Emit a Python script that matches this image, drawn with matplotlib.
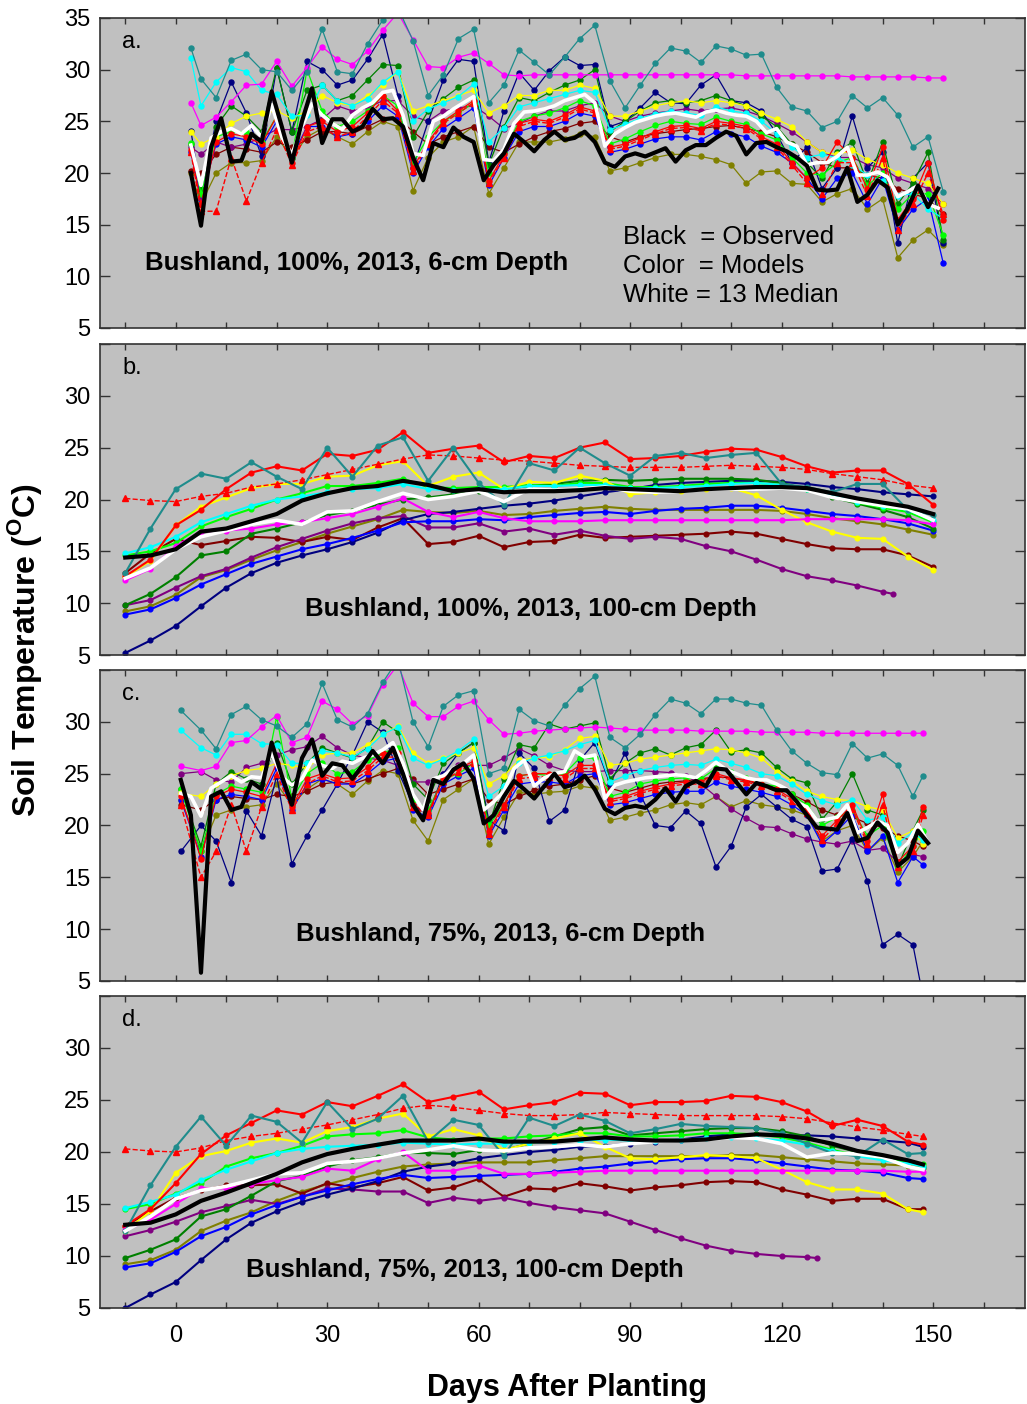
import numpy as np
import matplotlib
matplotlib.use('Agg')
import matplotlib.pyplot as plt
from matplotlib.ticker import MultipleLocator, FixedLocator

plt.rcParams['font.family'] = ['Liberation Sans', 'DejaVu Sans']
plt.rcParams['mathtext.fontset'] = 'custom'
plt.rcParams['mathtext.rm'] = 'Liberation Sans'
plt.rcParams['mathtext.bf'] = 'Liberation Sans:bold'

# ---------------- day grids ----------------
days_a_mod = np.r_[3, np.arange(5, 153, 3)]      # panel a models
days_a_obs = np.arange(3, 152, 2)                # panel a observed / median
days_c_mod = np.r_[1, np.arange(5, 147, 3), 148] # panel c models
days_c_obs = np.arange(1, 150, 2)
days_b = np.arange(-10, 151, 5)
days_b_purple = np.r_[np.arange(-10, 141, 5), 142]
days_d = np.r_[np.arange(-10, 146, 5), 148]
days_d_purple = np.r_[np.arange(-10, 126, 5), 127]

# ---------------- panel a : 100%, 6 cm ----------------
obs_a = [20.0, 14.9, 22.5, 25.3, 21.1, 21.2, 23.8, 23.0, 27.9, 24.5,
         21.0, 25.0, 28.2, 22.9, 25.2, 25.2, 24.0, 24.5, 26.2, 25.2,
         25.3, 24.5, 21.5, 19.3, 22.9, 22.5, 24.4, 23.5, 23.0, 19.3,
         20.8, 21.9, 23.8, 23.0, 22.1, 23.2, 24.0, 23.2, 23.4, 24.0,
         23.0, 21.0, 20.6, 21.6, 21.9, 21.6, 22.0, 22.4, 21.1, 22.2,
         22.7, 22.7, 23.4, 24.0, 23.6, 21.8, 22.9, 23.0, 22.5, 22.1,
         21.5, 20.7, 18.4, 18.3, 18.4, 20.5, 17.2, 17.9, 19.3, 18.6,
         15.0, 16.6, 18.8, 16.7, 18.5]
med_a = [22.7, 18.8, 23.4, 24.0, 24.3, 23.8, 24.6, 23.5, 26.6, 23.5,
         21.8, 24.5, 26.7, 25.6, 24.8, 24.2, 25.6, 26.3, 26.8, 27.8,
         28.0, 25.6, 21.9, 21.7, 25.0, 25.5, 26.2, 26.8, 27.4, 21.3,
         21.2, 22.3, 24.8, 25.9, 26.0, 26.2, 26.5, 27.0, 27.3, 27.6,
         26.8, 22.6, 23.8, 24.4, 24.9, 25.2, 25.5, 25.7, 25.8, 25.6,
         25.4, 25.9, 26.1, 25.8, 25.6, 25.5, 25.0, 23.9, 24.3, 23.0,
         22.6, 20.8, 21.0, 21.0, 21.6, 22.5, 19.8, 19.8, 20.1, 19.6,
         17.7, 18.2, 18.8, 17.0, 16.6]
teal_a = [32.1, 29.1, 27.3, 30.9, 31.5, 30.0, 29.8, 28.0, 29.8, 33.9,
          29.8, 29.6, 32.5, 34.8, 36.0, 32.8, 27.5, 29.5, 33.0, 33.9,
          26.8, 28.5, 31.9, 30.7, 29.5, 31.2, 33.0, 34.3, 28.9, 26.3,
          28.5, 30.6, 32.1, 31.8, 30.7, 32.3, 32.0, 31.4, 31.5, 28.3,
          26.4, 26.0, 24.4, 25.0, 27.5, 26.3, 27.3, 25.6, 22.5, 23.5,
          18.2]
cyan_a = [31.1, 26.5, 28.8, 30.2, 29.8, 28.0, 27.6, 25.5, 25.6, 28.5,
          27.0, 26.5, 27.2, 28.8, 29.8, 25.0, 26.2, 26.8, 27.4, 28.6,
          23.0, 24.4, 26.4, 26.8, 27.2, 27.6, 28.0, 27.8, 24.2, 24.7,
          25.3, 25.7, 26.0, 25.8, 25.6, 26.4, 26.0, 25.8, 25.0, 23.8,
          22.5, 21.5, 21.8, 21.5, 20.8, 19.8, 19.2, 17.8, 18.0, 16.5,
          15.6]
magenta_a = [26.8, 24.6, 25.4, 26.9, 28.5, 28.6, 30.8, 28.4, 30.2, 32.2,
             31.0, 30.5, 31.8, 33.8, 35.5, 32.9, 30.3, 30.2, 31.2, 31.6,
             30.6, 29.5, 29.4, 29.5, 29.5, 29.5, 29.5, 29.5, 29.5, 29.5,
             29.5, 29.5, 29.5, 29.5, 29.5, 29.5, 29.5, 29.4, 29.4, 29.4,
             29.4, 29.4, 29.4, 29.4, 29.3, 29.3, 29.3, 29.3, 29.3, 29.2,
             29.2]
navy_a = [24.1, 18.0, 25.0, 28.8, 25.8, 21.6, 30.2, 24.0, 30.8, 30.0,
          28.5, 29.0, 31.0, 33.4, 27.5, 20.5, 25.0, 29.0, 31.0, 30.8,
          21.0, 26.0, 29.7, 28.0, 29.9, 31.2, 30.4, 30.5, 24.5, 25.0,
          26.3, 27.8, 26.8, 26.7, 28.5, 29.5, 27.0, 26.8, 26.0, 23.8,
          21.0, 22.5, 18.5, 20.5, 25.5, 20.5, 22.0, 13.2, 19.5, 21.0,
          13.2]
blue_a = [22.0, 17.5, 22.8, 23.5, 23.2, 22.5, 25.0, 21.5, 24.5, 24.5,
          23.5, 23.8, 25.0, 26.5, 25.5, 20.0, 22.5, 24.3, 25.3, 26.3,
          18.8, 21.5, 24.0, 24.5, 24.5, 25.0, 25.8, 25.5, 22.0, 22.3,
          22.8, 23.3, 23.5, 23.5, 23.2, 24.0, 23.8, 23.5, 22.6, 22.0,
          21.0, 19.5, 17.5, 19.5, 20.0, 17.0, 19.5, 14.5, 16.5, 17.5,
          11.3]
red_a = [22.2, 17.0, 23.0, 23.8, 23.5, 22.8, 25.5, 21.0, 24.5, 25.0,
         24.0, 24.5, 25.8, 27.5, 26.0, 20.5, 23.0, 25.0, 26.0, 27.0,
         19.2, 21.8, 24.8, 25.2, 25.0, 25.6, 26.4, 26.0, 22.5, 22.8,
         23.4, 24.0, 24.5, 24.6, 24.3, 25.0, 24.8, 24.5, 23.5, 22.8,
         21.0, 19.5, 20.5, 23.0, 21.5, 18.5, 22.5, 15.5, 17.5, 21.0,
         15.5]
redtri_a = [22.0, 16.3, 16.3, 21.5, 17.3, 21.0, 24.2, 20.8, 24.0, 24.5,
            23.5, 24.0, 25.5, 27.0, 25.8, 20.2, 22.8, 24.8, 25.8, 26.8,
            19.0, 21.5, 24.5, 25.0, 24.8, 25.4, 26.2, 25.8, 22.3, 22.6,
            23.2, 23.8, 24.3, 24.4, 24.1, 24.8, 24.6, 24.3, 23.3, 22.5,
            20.8, 19.0, 18.0, 21.0, 21.0, 17.8, 21.5, 14.5, 17.0, 20.0,
            16.0]
green_a = [22.8, 18.5, 24.5, 26.5, 25.5, 24.0, 30.2, 24.0, 28.0, 28.5,
           27.0, 27.5, 29.0, 30.5, 30.4, 23.5, 26.0, 27.2, 28.3, 29.0,
           20.8, 24.5, 27.3, 27.0, 27.8, 28.5, 29.0, 30.0, 24.0, 25.0,
           26.0, 26.8, 27.0, 26.8, 27.0, 27.5, 27.0, 26.5, 25.5, 24.5,
           22.8, 21.0, 19.5, 22.0, 23.0, 19.0, 23.0, 17.0, 19.0, 22.0,
           13.5]
lime_a = [22.9, 18.0, 23.5, 24.0, 24.0, 23.0, 25.5, 21.5, 30.0, 26.0,
          24.5, 25.0, 26.0, 27.5, 26.5, 21.0, 23.5, 25.0, 25.8, 26.8,
          20.0, 22.0, 25.0, 25.5, 25.8, 26.3, 27.0, 26.5, 22.8, 23.3,
          24.0, 24.6, 25.0, 24.8, 24.7, 25.4, 25.0, 24.7, 23.8, 23.2,
          21.5, 20.0, 19.8, 21.0, 21.5, 18.8, 20.0, 16.5, 18.0, 18.0,
          14.0]
yellow_a = [24.0, 22.8, 23.5, 24.8, 25.5, 25.8, 26.0, 25.3, 26.0, 27.5,
            26.8, 26.5, 27.5, 28.5, 29.8, 26.0, 26.5, 27.0, 27.5, 28.0,
            25.8, 26.5, 27.5, 27.5, 28.0, 28.0, 28.5, 28.2, 25.5, 25.5,
            26.0, 26.5, 26.8, 27.0, 26.8, 27.0, 26.8, 26.5, 25.8, 25.2,
            24.5, 23.0, 22.0, 21.8, 22.2, 21.3, 20.8, 20.0, 19.5, 19.0,
            17.0]
purple_a = [22.5, 21.8, 23.0, 22.5, 22.8, 23.5, 24.2, 24.2, 24.5, 25.2,
            26.5, 26.0, 26.3, 27.0, 27.0, 25.5, 25.0, 26.0, 26.3, 26.5,
            25.5, 24.3, 24.8, 25.5, 26.0, 26.0, 26.5, 26.8, 25.5, 25.0,
            25.5, 25.8, 26.0, 26.2, 26.0, 26.2, 26.3, 26.0, 25.5, 24.8,
            24.0, 23.0, 22.0, 21.5, 21.5, 20.8, 20.5, 19.5, 19.0, 18.5,
            17.0]
maroon_a = [20.2, 20.0, 21.8, 22.5, 22.3, 22.0, 23.0, 22.5, 23.2, 24.0,
            24.0, 23.8, 24.5, 25.2, 25.3, 24.0, 22.8, 23.5, 24.0, 24.5,
            22.5, 22.0, 22.8, 23.5, 24.0, 24.3, 24.8, 25.0, 23.5, 23.0,
            23.5, 23.8, 24.0, 24.2, 24.3, 24.5, 24.6, 24.3, 24.0, 23.5,
            22.8, 22.0, 21.0, 20.5, 20.5, 19.8, 19.5, 18.5, 18.0, 17.5,
            16.0]
olive_a = [20.0, 17.0, 20.0, 21.0, 21.0, 21.2, 23.5, 21.5, 23.5, 24.3,
           23.5, 22.8, 24.0, 25.0, 24.5, 18.3, 21.5, 23.0, 23.5, 24.5,
           18.0, 20.5, 23.0, 23.0, 23.0, 23.3, 23.8, 23.5, 20.2, 20.5,
           21.0, 21.5, 21.8, 21.8, 21.6, 21.3, 20.8, 19.0, 20.1, 20.2,
           19.0, 18.9, 17.2, 18.0, 18.5, 16.5, 17.5, 11.8, 13.5, 14.5,
           13.0]

# ---------------- panel b : 100%, 100 cm ----------------
obs_b = [14.4, 14.6, 15.2, 16.9, 17.2, 17.9, 18.6, 19.9, 20.6, 21.1,
         21.3, 21.8, 21.4, 20.8, 21.0, 20.7, 20.8, 20.8, 20.9, 21.1,
         21.0, 20.9, 20.8, 21.0, 21.1, 21.2, 21.2, 21.1, 20.6, 20.1,
         19.7, 19.3, 18.6]
med_b = [12.4, 13.4, 15.2, 16.4, 17.0, 17.6, 18.0, 17.6, 18.8, 18.9,
         19.8, 20.6, 20.0, 20.3, 20.8, 19.8, 21.0, 20.9, 21.0, 21.2,
         20.8, 20.7, 20.8, 21.0, 21.0, 21.0, 21.1, 20.9, 20.2, 19.8,
         19.4, 19.1, 18.0]
teal_b = [12.9, 17.2, 21.0, 22.5, 22.0, 23.6, 22.2, 21.0, 25.0, 22.2,
          25.2, 26.0, 21.8, 25.0, 21.6, 19.5, 23.5, 22.8, 25.0, 23.5,
          22.3, 24.2, 24.5, 24.0, 24.3, 24.5, 21.5, 21.2, 20.7, 21.5,
          21.5, 19.0, 18.5]
red_b = [12.6, 14.2, 17.5, 19.0, 21.0, 22.6, 23.2, 22.8, 24.4, 24.2,
         24.8, 26.5, 24.5, 24.9, 25.2, 23.6, 24.2, 24.0, 25.0, 25.5,
         23.9, 24.0, 24.2, 24.6, 24.9, 24.8, 24.1, 23.2, 22.6, 22.8,
         22.8, 21.5, 19.5]
redtri_b = [20.1, 19.9, 19.8, 20.3, 20.6, 21.2, 21.5, 21.9, 22.4, 22.9,
            23.4, 23.9, 24.3, 24.2, 24.0, 23.8, 23.7, 23.5, 23.3, 23.2,
            23.1, 23.1, 23.1, 23.2, 23.3, 23.2, 23.1, 22.9, 22.5, 22.2,
            21.9, 21.4, 21.1]
yellow_b = [12.5, 14.1, 17.5, 19.3, 20.2, 21.1, 21.5, 21.5, 22.2, 22.3,
            23.3, 23.7, 21.3, 22.2, 22.6, 21.0, 21.7, 21.6, 22.3, 21.8,
            20.5, 20.7, 20.8, 21.0, 21.1, 20.4, 19.0, 17.8, 16.9, 16.3,
            16.2, 14.5, 13.2]
cyan_b = [14.8, 15.4, 16.4, 17.8, 18.6, 19.4, 20.0, 20.3, 20.7, 21.0,
          21.1, 21.5, 21.0, 20.9, 21.0, 21.0, 21.3, 21.3, 21.4, 21.4,
          21.1, 21.1, 21.2, 21.3, 21.5, 21.6, 21.4, 21.0, 20.4, 19.8,
          19.4, 19.0, 18.0]
lime_b = [14.6, 15.0, 15.8, 17.4, 18.3, 19.1, 20.0, 20.6, 21.3, 21.3,
          21.6, 22.0, 21.2, 21.1, 21.2, 21.2, 21.4, 21.3, 21.6, 21.6,
          21.2, 21.2, 21.3, 21.5, 21.6, 21.6, 21.4, 21.0, 20.4, 19.7,
          19.2, 18.8, 17.8]
green_b = [9.8, 10.9, 12.5, 14.6, 15.0, 16.7, 17.2, 17.8, 18.5, 18.9,
           19.5, 20.0, 20.2, 20.5, 20.8, 21.0, 21.3, 21.5, 21.8, 21.9,
           21.8, 21.9, 22.0, 22.0, 22.0, 21.9, 21.6, 21.0, 20.2, 19.6,
           19.0, 18.3, 17.2]
navy_b = [5.2, 6.4, 7.8, 9.7, 11.5, 12.9, 13.9, 14.6, 15.2, 15.9,
          16.8, 18.0, 18.6, 18.8, 19.1, 19.4, 19.6, 19.9, 20.3, 20.7,
          21.0, 21.4, 21.6, 21.7, 21.8, 21.8, 21.7, 21.5, 21.2, 21.0,
          20.7, 20.5, 20.3]
blue_b = [8.9, 9.4, 10.5, 11.8, 12.8, 13.8, 14.5, 15.2, 15.7, 16.3,
          17.0, 17.8, 17.9, 17.9, 18.1, 18.0, 18.3, 18.5, 18.7, 18.8,
          18.6, 18.9, 19.1, 19.2, 19.4, 19.4, 19.2, 18.9, 18.6, 18.4,
          18.1, 17.7, 17.0]
magenta_b = [12.2, 13.3, 15.5, 16.9, 17.0, 17.2, 17.6, 17.8, 18.2, 18.6,
             19.3, 20.1, 18.8, 18.3, 18.8, 18.2, 17.9, 17.9, 17.9, 18.0,
             18.0, 18.0, 18.0, 18.0, 18.0, 18.0, 18.0, 18.1, 18.1, 18.1,
             18.1, 18.0, 17.6]
purple_b = [9.8, 10.3, 11.5, 12.6, 13.3, 14.4, 15.4, 16.2, 17.0, 17.7,
            18.2, 18.4, 17.3, 17.3, 17.7, 16.9, 17.2, 16.6, 17.0, 16.5,
            16.2, 16.4, 16.2, 15.5, 15.0, 14.2, 13.3, 12.6, 12.2, 11.7,
            11.1, 10.9]
maroon_b = [12.9, 14.8, 16.2, 15.6, 16.0, 16.4, 16.3, 15.9, 16.4, 16.1,
            17.3, 18.2, 15.7, 15.9, 16.5, 15.4, 15.9, 16.0, 16.6, 16.3,
            16.4, 16.5, 16.6, 16.7, 16.9, 16.7, 16.2, 15.7, 15.3, 15.2,
            15.2, 14.6, 13.5]
olive_b = [9.2, 9.7, 10.8, 12.5, 13.2, 14.2, 15.1, 15.9, 16.7, 17.4,
           18.1, 19.0, 18.8, 18.7, 18.9, 18.5, 18.6, 18.9, 19.1, 19.3,
           19.1, 19.0, 19.0, 19.0, 19.0, 19.0, 18.9, 18.6, 18.2, 17.9,
           17.6, 17.1, 16.6]

# ---------------- panel c : 75%, 6 cm ----------------
obs_c = [24.4, 21.0, 5.8, 22.8, 23.3, 21.5, 21.8, 24.2, 23.5, 28.0,
         24.8, 22.0, 26.5, 28.3, 24.8, 26.0, 25.8, 24.5, 25.8, 27.2,
         26.0, 27.5, 25.0, 22.0, 20.5, 24.4, 24.0, 25.4, 26.0, 24.5,
         20.2, 21.0, 22.8, 24.3, 23.5, 22.6, 23.8, 25.0, 23.7, 24.0,
         24.8, 23.5, 21.6, 21.1, 21.7, 21.9, 21.7, 22.5, 23.6, 22.3,
         23.8, 24.3, 23.8, 25.5, 25.4, 24.2, 23.0, 24.1, 23.8, 23.4,
         23.4, 22.3, 21.0, 19.8, 19.7, 19.6, 21.2, 18.5, 18.8, 20.3,
         19.3, 16.1, 16.9, 19.5, 18.3]
med_c = [23.1, 22.8, 20.9, 23.6, 24.2, 24.8, 24.2, 24.7, 24.6, 27.0,
         24.7, 23.9, 24.5, 26.3, 25.8, 25.5, 26.2, 26.0, 26.5, 26.8,
         27.3, 28.0, 26.0, 23.0, 21.5, 24.5, 24.8, 25.5, 26.0, 26.8,
         21.5, 22.3, 23.3, 25.5, 26.3, 23.8, 24.6, 25.0, 25.2, 27.2,
         26.6, 26.8, 22.6, 23.9, 24.2, 24.4, 24.6, 24.7, 24.8, 24.9,
         24.8, 24.6, 25.3, 26.1, 25.4, 25.0, 24.6, 24.4, 24.4, 24.0,
         23.5, 22.2, 21.8, 20.5, 20.6, 20.8, 22.0, 19.3, 19.8, 20.4,
         20.0, 17.4, 18.3, 20.1, 18.3]
teal_c = [31.1, 29.2, 27.4, 30.7, 31.5, 30.2, 29.6, 28.5, 29.8, 33.7,
          30.2, 29.5, 30.8, 33.8, 36.0, 30.0, 27.6, 31.5, 32.6, 33.0,
          25.0, 25.5, 31.2, 30.1, 29.6, 31.6, 33.2, 34.4, 28.5, 27.5,
          28.8, 30.7, 32.2, 31.8, 30.8, 32.2, 32.2, 31.8, 31.6, 29.2,
          27.2, 26.0, 25.1, 24.9, 27.9, 26.5, 26.9, 25.8, 22.8, 24.8]
cyan_c = [29.2, 27.5, 26.8, 28.8, 28.8, 27.9, 27.8, 26.0, 26.0, 27.2,
          27.0, 26.6, 27.4, 28.8, 29.5, 26.5, 25.8, 26.4, 27.2, 28.3,
          22.8, 23.8, 26.0, 26.5, 26.8, 27.2, 27.8, 28.2, 24.2, 24.8,
          25.3, 25.6, 25.8, 25.9, 25.8, 26.4, 26.0, 25.6, 25.0, 24.8,
          24.0, 23.0, 22.4, 22.0, 22.5, 20.5, 20.8, 18.3, 19.3, 18.6]
magenta_c = [25.7, 25.3, 25.7, 28.0, 28.2, 29.5, 30.6, 28.0, 28.5, 32.0,
             31.2, 29.8, 30.6, 33.6, 35.5, 31.8, 30.5, 30.5, 31.5, 32.0,
             30.2, 28.8, 28.9, 29.1, 29.2, 29.3, 29.4, 29.5, 29.4, 29.3,
             29.2, 29.2, 29.2, 29.2, 29.1, 29.1, 29.1, 29.1, 29.0, 29.0,
             29.0, 29.0, 28.9, 28.9, 28.9, 28.9, 28.9, 28.9, 28.9, 28.9]
navy_c = [17.5, 20.0, 18.5, 14.5, 21.4, 19.0, 24.8, 16.3, 19.0, 21.5,
          24.0, 26.8, 30.0, 29.0, 25.3, 22.0, 21.0, 25.0, 27.0, 28.0,
          20.5, 19.5, 27.0, 25.5, 20.4, 21.5, 26.3, 28.0, 24.0, 27.0,
          23.0, 20.0, 19.8, 21.4, 20.2, 16.0, 18.0, 21.8, 23.0, 21.8,
          20.6, 19.9, 15.6, 15.8, 18.7, 14.6, 8.5, 9.5, 8.5, 3.5]
blue_c = [22.5, 17.0, 22.5, 23.0, 22.8, 22.5, 25.5, 21.5, 24.0, 24.5,
          24.0, 24.0, 25.0, 26.2, 26.5, 21.5, 20.8, 24.0, 24.8, 25.5,
          19.0, 21.5, 24.0, 24.2, 24.2, 24.0, 24.8, 25.0, 22.0, 22.2,
          22.6, 23.0, 23.2, 23.3, 23.3, 24.2, 23.8, 23.5, 23.2, 22.8,
          22.0, 21.0, 18.2, 19.5, 21.0, 17.5, 19.0, 14.5, 17.0, 16.2]
red_c = [22.8, 16.8, 22.8, 23.5, 23.2, 22.8, 26.0, 21.8, 24.5, 25.0,
         24.5, 24.6, 25.6, 27.0, 27.0, 22.0, 21.2, 24.6, 25.5, 26.2,
         19.5, 22.0, 24.8, 25.0, 25.0, 24.8, 25.8, 25.8, 22.5, 22.8,
         23.3, 23.7, 24.0, 24.2, 24.2, 25.0, 24.6, 24.4, 24.0, 23.5,
         22.6, 21.5, 19.0, 20.5, 22.0, 18.5, 23.0, 16.5, 18.0, 21.8]
redtri_c = [22.0, 15.0, 17.5, 22.0, 17.5, 21.8, 25.0, 21.5, 24.0, 24.8,
            24.2, 24.3, 25.3, 26.6, 26.6, 21.8, 21.0, 24.3, 25.2, 26.0,
            19.2, 21.8, 24.5, 24.7, 24.7, 24.5, 25.5, 25.5, 22.3, 22.6,
            23.1, 23.5, 23.8, 24.0, 24.0, 24.8, 24.4, 24.2, 23.8, 23.3,
            22.4, 21.2, 18.6, 20.2, 21.6, 18.2, 22.0, 16.0, 17.5, 21.0]
green_c = [23.5, 18.0, 24.0, 25.2, 24.5, 24.0, 28.0, 24.0, 26.0, 27.5,
           27.0, 26.5, 27.5, 30.0, 29.0, 24.0, 22.5, 26.0, 27.0, 28.0,
           20.0, 24.5, 27.8, 27.5, 29.8, 29.3, 29.6, 29.9, 24.5, 26.0,
           27.0, 27.4, 26.8, 27.5, 27.8, 29.2, 27.1, 27.3, 27.0, 25.6,
           24.5, 24.1, 20.6, 22.3, 25.0, 21.5, 21.0, 16.0, 19.5, 21.5]
lime_c = [23.5, 17.5, 23.0, 23.8, 23.5, 23.2, 30.5, 22.5, 25.0, 26.0,
          25.0, 25.2, 26.3, 27.0, 27.5, 22.5, 21.5, 24.5, 25.0, 26.0,
          20.0, 22.0, 24.8, 25.0, 24.8, 25.0, 26.5, 26.5, 22.8, 23.2,
          24.0, 24.3, 24.5, 24.6, 24.5, 25.5, 25.2, 24.6, 24.0, 23.8,
          23.0, 22.0, 20.0, 20.8, 21.5, 19.0, 20.0, 16.0, 18.0, 19.5]
yellow_c = [23.1, 22.8, 24.0, 24.8, 25.3, 25.5, 26.0, 25.8, 25.5, 26.8,
            27.0, 27.0, 27.8, 28.8, 29.6, 27.0, 26.0, 26.5, 27.0, 27.5,
            24.0, 24.8, 26.3, 26.5, 26.6, 27.3, 28.4, 28.6, 25.8, 26.0,
            26.4, 26.6, 26.8, 27.0, 27.2, 27.4, 27.3, 27.0, 26.5, 25.2,
            24.3, 23.3, 22.8, 22.5, 22.4, 21.8, 21.5, 18.8, 19.5, 18.2]
purple_c = [25.0, 25.2, 24.4, 24.2, 25.6, 26.0, 26.8, 27.3, 27.6, 28.6,
            27.5, 26.8, 26.5, 26.3, 25.8, 24.2, 24.2, 25.0, 25.8, 25.8,
            25.8, 26.5, 27.4, 26.7, 25.8, 25.3, 25.2, 25.2, 25.3, 25.3,
            25.3, 25.2, 25.1, 24.8, 24.0, 22.8, 21.6, 20.7, 19.9, 19.8,
            19.2, 18.7, 18.4, 18.2, 18.5, 17.6, 17.8, 16.5, 17.2, 17.0]
maroon_c = [22.0, 21.5, 22.5, 22.8, 22.6, 22.5, 23.0, 22.8, 23.3, 24.0,
            24.2, 24.0, 24.5, 25.0, 25.5, 24.5, 23.0, 23.5, 24.0, 24.5,
            22.5, 22.0, 22.8, 23.4, 23.8, 24.0, 24.4, 24.8, 23.6, 23.2,
            23.6, 24.0, 24.2, 24.3, 24.5, 24.7, 24.6, 24.3, 24.0, 23.6,
            23.0, 22.3, 21.5, 21.0, 20.8, 20.2, 19.8, 19.0, 18.5, 18.0]
olive_c = [22.5, 17.5, 21.0, 21.5, 21.8, 22.0, 24.0, 22.0, 23.5, 24.5,
           24.0, 23.0, 24.3, 25.3, 25.0, 20.5, 18.5, 22.5, 23.5, 24.5,
           18.2, 20.8, 23.2, 23.0, 23.2, 23.3, 23.8, 23.6, 20.5, 20.8,
           21.2, 21.5, 22.0, 22.2, 22.0, 22.8, 21.8, 22.4, 22.0, 21.8,
           21.5, 21.0, 18.5, 19.5, 20.0, 17.5, 18.8, 15.5, 17.0, 18.5]

# ---------------- panel d : 75%, 100 cm ----------------
obs_d = [13.0, 13.2, 14.0, 15.3, 16.1, 17.0, 17.9, 19.0, 19.8, 20.3,
         20.7, 21.1, 21.1, 21.1, 21.3, 21.0, 21.0, 21.0, 21.2, 21.4,
         21.2, 21.1, 21.1, 21.2, 21.5, 21.7, 21.6, 21.3, 20.8, 20.1,
         19.7, 19.2, 18.8]
med_d = [12.4, 13.8, 15.5, 16.3, 16.7, 17.3, 17.9, 18.0, 18.9, 19.1,
         19.4, 19.9, 20.2, 20.6, 20.2, 20.1, 20.4, 20.5, 20.7, 20.5,
         20.8, 21.0, 21.1, 21.2, 21.4, 21.3, 20.8, 19.5, 19.9, 19.8,
         19.5, 18.6, 18.3]
teal_d = [12.4, 16.8, 20.5, 23.4, 20.6, 23.5, 22.9, 20.9, 24.8, 22.2,
          23.2, 25.4, 21.0, 23.1, 22.6, 19.6, 23.3, 22.5, 23.6, 23.0,
          21.8, 22.2, 22.7, 22.5, 22.4, 22.3, 21.8, 20.8, 19.9, 19.6,
          21.2, 19.8, 19.9]
red_d = [12.9, 14.5, 17.0, 19.8, 21.6, 22.8, 24.0, 23.6, 24.8, 24.4,
         25.4, 26.5, 24.8, 25.3, 25.8, 24.1, 24.5, 24.8, 25.7, 25.6,
         24.5, 24.8, 24.8, 24.9, 25.4, 25.3, 24.8, 23.9, 22.5, 23.1,
         22.5, 21.0, 20.7]
redtri_d = [20.3, 20.1, 20.0, 20.4, 21.1, 21.5, 21.8, 22.2, 22.6, 23.1,
            23.6, 24.2, 24.5, 24.3, 24.0, 23.7, 23.5, 23.5, 23.6, 23.8,
            23.7, 23.6, 23.5, 23.5, 23.5, 23.5, 23.4, 23.2, 22.8, 22.4,
            22.1, 21.7, 21.5]
yellow_d = [12.4, 14.3, 18.0, 19.6, 20.1, 20.9, 21.3, 20.9, 22.0, 22.4,
            23.2, 23.7, 21.5, 22.2, 21.6, 20.2, 20.8, 21.3, 21.8, 20.5,
            19.4, 19.3, 19.5, 19.7, 19.6, 19.4, 18.3, 17.1, 16.4, 16.4,
            16.0, 14.5, 14.2]
cyan_d = [14.6, 15.2, 15.9, 17.3, 18.3, 19.1, 19.9, 20.3, 20.5, 20.6,
          20.7, 20.9, 20.8, 20.7, 20.8, 20.8, 20.9, 21.0, 21.1, 21.2,
          21.1, 21.1, 21.2, 21.3, 21.4, 21.3, 21.1, 20.7, 20.1, 19.6,
          19.2, 18.9, 18.6]
lime_d = [14.5, 15.0, 16.0, 17.0, 18.6, 19.4, 19.9, 20.6, 21.5, 21.7,
          21.8, 22.1, 21.4, 21.2, 21.3, 21.3, 21.5, 21.6, 21.8, 21.8,
          21.5, 21.5, 21.6, 21.8, 21.8, 21.7, 21.4, 20.9, 20.2, 19.7,
          19.3, 19.0, 18.8]
green_d = [9.8, 10.6, 11.6, 13.8, 14.5, 15.8, 17.2, 17.7, 18.6, 19.2,
           19.5, 19.9, 19.9, 19.8, 20.2, 20.2, 20.8, 21.5, 22.2, 22.4,
           21.6, 21.8, 22.0, 22.2, 22.3, 22.3, 22.0, 21.5, 20.6, 20.0,
           19.5, 19.0, 18.6]
navy_d = [5.0, 6.3, 7.5, 9.6, 11.6, 13.2, 14.3, 15.2, 15.9, 16.5,
          17.2, 18.1, 18.6, 18.9, 19.4, 19.7, 20.0, 20.2, 20.5, 20.6,
          20.8, 21.0, 21.2, 21.5, 21.7, 21.7, 21.6, 21.6, 21.5, 21.3,
          21.1, 20.9, 20.5]
blue_d = [8.9, 9.3, 10.4, 11.9, 12.8, 14.0, 14.9, 15.7, 16.3, 16.9,
          17.4, 17.8, 17.5, 17.6, 17.7, 17.8, 17.9, 18.1, 18.4, 18.6,
          18.9, 19.1, 19.3, 19.4, 19.4, 19.2, 18.9, 18.6, 18.3, 18.2,
          18.0, 17.5, 17.4]
magenta_d = [12.5, 13.5, 15.0, 16.5, 16.5, 16.9, 17.3, 17.6, 18.4, 18.2,
             19.3, 20.0, 18.2, 18.2, 18.7, 17.9, 17.9, 18.0, 18.1, 18.2,
             18.2, 18.2, 18.2, 18.2, 18.2, 18.2, 18.2, 18.2, 18.2, 18.2,
             18.2, 18.1, 18.1]
purple_d = [11.9, 12.5, 13.3, 14.2, 14.8, 15.4, 15.0, 15.7, 16.5, 16.4,
            16.2, 16.2, 15.1, 15.6, 15.3, 15.6, 15.1, 14.7, 14.4, 14.1,
            13.3, 12.5, 11.7, 11.0, 10.5, 10.2, 10.0, 9.9, 9.8]
maroon_d = [12.9, 14.3, 15.6, 16.3, 16.8, 16.8, 16.9, 16.0, 17.0, 16.6,
            17.0, 17.6, 16.3, 16.6, 17.4, 15.7, 16.5, 16.4, 17.0, 16.7,
            16.3, 16.6, 16.8, 17.1, 17.2, 17.1, 16.4, 15.9, 15.3, 15.5,
            15.5, 14.5, 14.5]
olive_d = [9.2, 9.6, 10.6, 12.4, 13.4, 14.2, 15.3, 16.2, 16.9, 17.5,
           18.1, 18.6, 18.8, 18.9, 19.0, 19.0, 19.0, 19.2, 19.4, 19.6,
           19.6, 19.6, 19.6, 19.6, 19.7, 19.7, 19.5, 19.3, 19.1, 18.9,
           18.8, 18.7, 18.5]

panel_titles = ["Bushland, 100%, 2013, 6-cm Depth",
                "Bushland, 100%, 2013, 100-cm Depth",
                "Bushland, 75%, 2013, 6-cm Depth",
                "Bushland, 75%, 2013, 100-cm Depth"]
panel_letters = ["a.", "b.", "c.", "d."]

# model style: colour, marker, linestyle
STYLE = {
    'olive':   ('#808000', 'o', '-'),
    'maroon':  ('#800000', 'o', '-'),
    'purple':  ('#800080', 'o', '-'),
    'navy':    ('#000080', 'o', '-'),
    'blue':    ('#0000FF', 'o', '-'),
    'green':   ('#008000', 'o', '-'),
    'lime':    ('#00FF00', 'o', '-'),
    'yellow':  ('#FFFF00', 'o', '-'),
    'cyan':    ('#00FFFF', 'o', '-'),
    'redtri':  ('#FF0000', '^', '--'),
    'red':     ('#FF0000', 'o', '-'),
    'magenta': ('#FF00FF', 'o', '-'),
    'teal':    ('#1F8C8C', 'o', '-'),
}

def mods(suffix, g):
    return {k: g[k + '_' + suffix] for k in STYLE}

g = globals()
panels = [
    dict(mx=days_a_mod, models=mods('a', g), ox=days_a_obs, obs=obs_a, med=med_a,
         ms=3.6, lw=0.9, purple_x=None),
    dict(mx=days_b, models=mods('b', g), ox=days_b, obs=obs_b, med=med_b,
         ms=3.4, lw=1.5, purple_x=days_b_purple),
    dict(mx=days_c_mod, models=mods('c', g), ox=days_c_obs, obs=obs_c, med=med_c,
         ms=3.6, lw=0.9, purple_x=None),
    dict(mx=days_d, models=mods('d', g), ox=days_d, obs=obs_d, med=med_d,
         ms=3.4, lw=1.5, purple_x=days_d_purple),
]

# axes boxes in pixel rows (top, bottom) of the 1027x1404 figure
rows = [(18, 328), (344, 655), (670, 981), (996, 1308)]
title_pos = [(0.049, 0.21), (0.222, 0.148), (0.212, 0.151), (0.158, 0.122)]

W, H = 1027, 1404
fig = plt.figure(figsize=(W / 100, H / 100), dpi=100)

for i, (p, (top, bot)) in enumerate(zip(panels, rows)):
    ax = fig.add_axes([100 / W, 1 - bot / H, 925 / W, (bot - top) / H])
    ax.set_facecolor('#C0C0C0')
    for name, (col, mk, ls) in STYLE.items():
        y = p['models'][name]
        x = p['mx']
        if name == 'purple' and p['purple_x'] is not None:
            x = p['purple_x']
        n = min(len(x), len(y))
        ax.plot(x[:n], y[:n], color=col, marker=mk, ls=ls,
                lw=p['lw'] if ls == '-' else 1.0,
                ms=p['ms'] + (0.6 if mk == '^' else 0), mec=col, zorder=2)
    n = min(len(p['ox']), len(p['med']))
    ax.plot(p['ox'][:n], p['med'][:n], color='white', lw=2.6, zorder=3)
    n = min(len(p['ox']), len(p['obs']))
    ax.plot(p['ox'][:n], p['obs'][:n], color='black', lw=3.0, zorder=4)

    ax.set_xlim(-15, 168.2)
    ax.set_ylim(5, 35)
    ax.xaxis.set_major_locator(FixedLocator([0, 30, 60, 90, 120, 150]))
    ax.xaxis.set_minor_locator(MultipleLocator(10))
    ax.yaxis.set_major_locator(FixedLocator([5, 10, 15, 20, 25, 30, 35]))
    ax.tick_params(axis='both', which='both', direction='in', top=True, right=True,
                   colors='#333333', labelcolor='black')
    ax.tick_params(axis='y', length=7, width=1, labelsize=17, pad=7)
    ax.tick_params(axis='x', which='both', length=4, width=1, labelsize=17, pad=12)
    if i == 0:
        ax.set_yticklabels(['5', '10', '15', '20', '25', '30', '35'])
    else:
        ax.set_yticklabels(['5', '10', '15', '20', '25', '30', ''])
    if i < 3:
        ax.set_xticklabels([])
    else:
        ax.set_xticklabels(['0', '30', '60', '90', '120', '150'])
    for s in ax.spines.values():
        s.set_color('#333333')
        s.set_linewidth(1.2)

    ax.text(0.024, 0.923, panel_letters[i], transform=ax.transAxes,
            fontsize=17, va='center', ha='left')
    tx, ty = title_pos[i]
    ax.text(tx, ty, panel_titles[i], transform=ax.transAxes, fontsize=18.5,
            fontweight='bold', va='center', ha='left', zorder=6)
    if i == 0:
        for j, line in enumerate(["Black  = Observed", "Color  = Models", "White = 13 Median"]):
            ax.text(0.565, 0.294 - j * 0.094, line, transform=ax.transAxes,
                    fontsize=18.5, va='center', ha='left', zorder=6)

fig.text(25 / W, 1 - 650 / H, r'Soil Temperature ($^{\mathbf{O}}$C)', rotation=90,
         fontsize=23, fontweight='bold', ha='center', va='center')
fig.text(567 / W, 1 - 1388 / H, 'Days After Planting', fontsize=22, fontweight='bold',
         ha='center', va='center')

fig.savefig('out.png', dpi=100, facecolor='white')
